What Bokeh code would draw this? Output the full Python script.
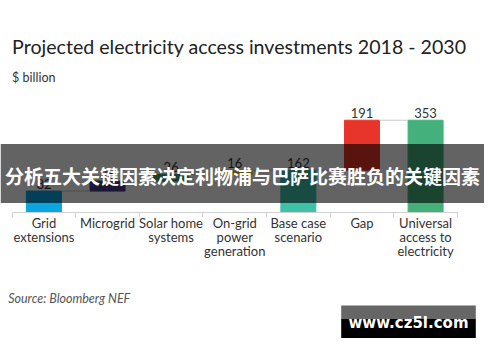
from bokeh.plotting import figure
from bokeh.models import Range1d, Label, BoxAnnotation, FixedTicker, ColumnDataSource
from bokeh.layouts import column
from bokeh.core.properties import value
from bokeh.embed import file_html
from bokeh.resources import INLINE

# ---- data ----
categories = ["Grid\nextensions", "Microgrid", "Solar home\nsystems", "On-grid\npower\ngeneration",
              "Base case\nscenario", "Gap", "Universal\naccess to\nelectricity"]
values = [82, 38, 26, 16, 162, 191, 353]
kinds = ["step", "step", "step", "step", "total", "step", "total"]
colors = ["#0aa6df", "#4b3a8c", "#3fa37a", "#e6cf2a", "#3fc1a8", "#e8352b", "#44b07c"]
title_text = "Projected electricity access investments 2018 - 2030"
unit_text = "$ billion"
source_text = "Source: Bloomberg NEF"
banner_text = "分析五大关键因素决定利物浦与巴萨比赛胜负的关键因素"
watermark_text = "www.cz5l.com"

# ---- waterfall geometry from the values ----
centers = [i + 0.5 for i in range(len(values))]
bottoms, tops = [], []
run = 0
for v, k in zip(values, kinds):
    if k == "total":
        bottoms.append(0)
        tops.append(v)
        run = v
    else:
        bottoms.append(run)
        tops.append(run + v)
        run += v

BAR_W = 0.55
FONT = "Lato"
src = ColumnDataSource(dict(x=centers, bottom=bottoms, top=tops, color=colors,
                            label=[str(v) for v in values]))

W, H1, H2 = 484, 287, 59
p = figure(width=W, height=H1, output_backend="svg", toolbar_location=None,
           x_range=Range1d(-0.1825, 7.426), y_range=Range1d(0, 811),
           min_border_left=0, min_border_right=0, min_border_top=0, min_border_bottom=75,
           y_axis_location=None)
p.xgrid.visible = False
p.ygrid.visible = False
p.outline_line_color = None
p.background_fill_color = "white"
p.border_fill_color = "white"

p.vbar(x="x", bottom="bottom", top="top", width=BAR_W, color="color", source=src)

# connectors
p.segment(x0=[c + BAR_W / 2 for c in centers[:-1]], x1=[c - BAR_W / 2 for c in centers[1:]],
          y0=tops[:-1], y1=tops[:-1], line_color="#c8c8c8", line_width=1)

p.text(x="x", y="top", text="label", source=src, text_align="center", text_baseline="bottom",
       y_offset=-2, text_font=value(FONT), text_font_size="13px", text_color="#333333")

ax = p.xaxis[0]
ax.ticker = FixedTicker(ticks=centers, minor_ticks=list(range(len(values) + 1)))
ax.major_label_overrides = {c: lab for c, lab in zip(centers, categories)}
ax.bounds = (0, len(values))
ax.axis_line_color = "#d0d0d0"
ax.axis_line_width = 1
ax.major_tick_in = 0
ax.major_tick_out = 0
ax.major_tick_line_color = None
ax.minor_tick_in = 0
ax.minor_tick_out = 5
ax.minor_tick_line_color = "#d0d0d0"
ax.major_label_standoff = -3
ax.major_label_text_font = FONT
ax.major_label_text_font_size = "13px"
ax.major_label_text_color = "#333333"
ax.major_label_text_line_height = 0.88

p.add_layout(Label(x=11.6, y=46, x_units="canvas", y_units="canvas", text=title_text,
                   text_font=FONT, text_font_size="19.6px", text_color="#222222",
                   text_baseline="middle"))
p.add_layout(Label(x=11.6, y=76.5, x_units="canvas", y_units="canvas", text=unit_text,
                   text_font=FONT, text_font_size="12.5px", text_color="#333333",
                   text_baseline="middle"))

# banner overlay
p.add_layout(BoxAnnotation(top=143.4, bottom=202.6, top_units="canvas", bottom_units="canvas",
                           fill_color="black", fill_alpha=0.61, line_color=None))
p.add_layout(Label(x=242, y=175.4, x_units="canvas", y_units="canvas", text=banner_text,
                   text_font="Noto Sans CJK SC", text_font_style="bold", text_font_size="19px",
                   text_color="white", text_align="center", text_baseline="middle"))

# footer figure
q = figure(width=W, height=H2, output_backend="svg", toolbar_location=None,
           x_range=Range1d(0, 1), y_range=Range1d(0, 1),
           min_border_left=0, min_border_right=0, min_border_top=0, min_border_bottom=0,
           x_axis_location=None, y_axis_location=None)
q.xgrid.visible = False
q.ygrid.visible = False
q.outline_line_color = None
q.background_fill_color = "white"
q.border_fill_color = "white"
q.add_layout(Label(x=7.7, y=11.2, x_units="canvas", y_units="canvas", text=source_text,
                   text_font=FONT, text_font_style="italic", text_font_size="12.5px",
                   text_color="#555555", text_baseline="middle"))
q.add_layout(BoxAnnotation(left=340.7, right=475.3, top=17.9, bottom=31.3,
                           left_units="canvas", right_units="canvas", top_units="canvas",
                           bottom_units="canvas", fill_color="#666666", fill_alpha=1, line_color=None))
q.add_layout(BoxAnnotation(left=340.7, right=475.3, top=31.3, bottom=50.4,
                           left_units="canvas", right_units="canvas", top_units="canvas",
                           bottom_units="canvas", fill_color="black", fill_alpha=1, line_color=None))
q.add_layout(Label(x=408, y=35.1, x_units="canvas", y_units="canvas", text=watermark_text,
                   text_font="DejaVu Sans", text_font_style="bold", text_font_size="15px",
                   text_color="white", text_align="center", text_baseline="middle"))

layout = column(p, q, spacing=0)
open("out.html", "w").write(file_html(layout, INLINE))
